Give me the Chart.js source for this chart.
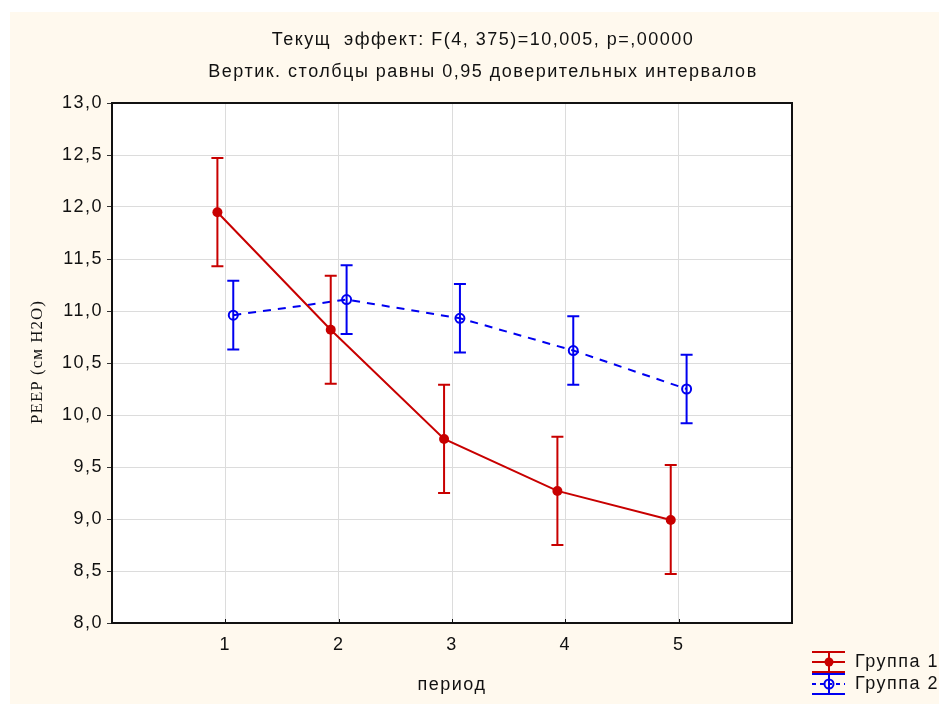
<!DOCTYPE html>
<html>
<head>
<meta charset="utf-8">
<script src="https://cdn.jsdelivr.net/npm/chart.js@4/dist/chart.umd.min.js"></script>
<style>
  html, body { margin: 0; padding: 0; background: #fff; }
  #wrap { width: 939px; height: 704px; position: relative; }
</style>
</head>
<body>
<div id="wrap"><canvas id="c" width="939" height="704"></canvas></div>
<script>
// данные (средние и 95% ДИ)
var periods = [1, 2, 3, 4, 5];
var group1Mean = [11.95, 10.82, 9.77, 9.27, 8.99];
var group1Low  = [11.43, 10.30, 9.25, 8.75, 8.47];
var group1High = [12.47, 11.34, 10.29, 9.79, 9.52];
var group2Mean = [10.96, 11.11, 10.93, 10.62, 10.25];
var group2Low  = [10.63, 10.78, 10.60, 10.29, 9.92];
var group2High = [11.29, 11.44, 11.26, 10.95, 10.58];
var yTicks = [8, 8.5, 9, 9.5, 10, 10.5, 11, 11.5, 12, 12.5, 13];
var titleLines = ['Текущ  эффект: F(4, 375)=10,005, p=,00000', 'Вертик. столбцы равны 0,95 доверительных интервалов'];

var RED = '#c80000', BLUE = '#0000f0';
var FONT = '"Liberation Sans", Arial, sans-serif';
var SPACING = '1.5px';

function pts(mean, lo, hi, shift) {
  return periods.map(function (p, i) {
    return { x: p + shift, y: mean[i], lo: lo[i], hi: hi[i] };
  });
}

// фон, рамка, усы, заголовки и легенда
var decor = {
  id: 'decor',
  beforeDraw: function (ch) {
    var ctx = ch.ctx, a = ch.chartArea;
    ctx.save();
    ctx.fillStyle = '#ffffff';
    ctx.fillRect(0, 0, ch.width, ch.height);
    ctx.fillStyle = '#fff9ee';
    ctx.fillRect(10, 12, ch.width - 10, ch.height - 12);
    ctx.fillStyle = '#ffffff';
    ctx.fillRect(a.left, a.top, a.right - a.left, a.bottom - a.top);
    ctx.restore();
    ctx.letterSpacing = SPACING; // шрифт в оригинале шире
  },
  afterDatasetsDraw: function (ch) {
    var ctx = ch.ctx, xs = ch.scales.x, ys = ch.scales.y;
    ctx.save();
    ch.data.datasets.forEach(function (ds) {
      ctx.strokeStyle = ds.borderColor;
      ctx.lineWidth = 2;
      ctx.setLineDash([]);
      ds.data.forEach(function (d) {
        var x = xs.getPixelForValue(d.x);
        var y1 = ys.getPixelForValue(d.lo), y2 = ys.getPixelForValue(d.hi);
        ctx.beginPath();
        ctx.moveTo(x, y1); ctx.lineTo(x, y2);
        ctx.moveTo(x - 6, y1); ctx.lineTo(x + 6, y1);
        ctx.moveTo(x - 6, y2); ctx.lineTo(x + 6, y2);
        ctx.stroke();
      });
    });
    ctx.restore();
  },
  afterDraw: function (ch) {
    var ctx = ch.ctx, a = ch.chartArea;
    ctx.save();
    ctx.strokeStyle = '#111';
    ctx.lineWidth = 2;
    ctx.strokeRect(a.left, a.top, a.right - a.left, a.bottom - a.top);
    // маленькие штрихи по оси X внутрь
    ctx.lineWidth = 1;
    periods.forEach(function (p) {
      var x = Math.round(ch.scales.x.getPixelForValue(p)) + 0.5;
      ctx.beginPath(); ctx.moveTo(x, a.bottom); ctx.lineTo(x, a.bottom - 4); ctx.stroke();
    });

    ctx.fillStyle = '#111';
    ctx.textAlign = 'center';
    ctx.textBaseline = 'middle';
    ctx.letterSpacing = SPACING;

    // заголовок
    ctx.font = '18px ' + FONT;
    ctx.fillText(titleLines[0], 483, 40);
    ctx.fillText(titleLines[1], 483, 72);

    // заголовки осей
    ctx.fillText('период', (a.left + a.right) / 2, 685);
    ctx.font = '17px "Liberation Serif", "Times New Roman", serif';
    ctx.letterSpacing = '1px';
    ctx.translate(38, 362);
    ctx.rotate(-Math.PI / 2);
    ctx.fillText('PEEP (см H2O)', 0, 0);
    ctx.setTransform(1, 0, 0, 1, 0, 0);
    ctx.letterSpacing = SPACING;

    // легенда
    var items = [
      { label: 'Группа 1', color: RED, y: 662, dash: [], fill: true },
      { label: 'Группа 2', color: BLUE, y: 684, dash: [4, 4], fill: false }
    ];
    items.forEach(function (it) {
      var x0 = 812, x1 = 845, cx = 829;
      ctx.strokeStyle = it.color;
      ctx.lineWidth = 2;
      ctx.setLineDash([]);
      ctx.beginPath();
      ctx.moveTo(x0, it.y - 10); ctx.lineTo(x1, it.y - 10);
      ctx.moveTo(x0, it.y + 10); ctx.lineTo(x1, it.y + 10);
      ctx.moveTo(cx, it.y - 10); ctx.lineTo(cx, it.y + 10);
      ctx.stroke();
      ctx.setLineDash(it.dash);
      ctx.beginPath(); ctx.moveTo(x0, it.y); ctx.lineTo(x1, it.y); ctx.stroke();
      ctx.setLineDash([]);
      ctx.beginPath(); ctx.arc(cx, it.y, 4.5, 0, Math.PI * 2);
      if (it.fill) { ctx.fillStyle = it.color; ctx.fill(); } else { ctx.stroke(); }
      ctx.fillStyle = '#111';
      ctx.font = '18px ' + FONT;
      ctx.textAlign = 'left';
      ctx.fillText(it.label, 855, it.y);
    });
    ctx.restore();
  }
};

new Chart(document.getElementById('c'), {
  type: 'line',
  data: {
    datasets: [
      {
        label: 'Группа 1',
        data: pts(group1Mean, group1Low, group1High, -0.07),
        borderColor: RED, backgroundColor: RED,
        borderWidth: 2, pointRadius: 5, pointBackgroundColor: RED,
        pointBorderWidth: 0, tension: 0
      },
      {
        label: 'Группа 2',
        data: pts(group2Mean, group2Low, group2High, 0.07),
        borderColor: BLUE, backgroundColor: BLUE,
        borderWidth: 2, borderDash: [8, 7], pointRadius: 4.5,
        pointBackgroundColor: 'rgba(255,255,255,0)', pointBorderColor: BLUE,
        pointBorderWidth: 2, tension: 0
      }
    ]
  },
  options: {
    responsive: false,
    animation: false,
    layout: { padding: { top: 103, right: 147, left: 0, bottom: 0 } },
    plugins: {
      legend: { display: false },
      tooltip: { enabled: false },
      title: { display: false }
    },
    scales: {
      x: {
        type: 'linear', min: 0, max: 6,
        afterFit: function (s) { s.height = 81; },
        afterBuildTicks: function (s) { s.ticks = periods.map(function (p) { return { value: p }; }); },
        ticks: { color: '#111', font: { family: FONT, size: 18 }, padding: 11 },
        grid: { color: '#dcdcdc', drawTicks: false },
        border: { display: false }
      },
      y: {
        min: 8, max: 13,
        afterFit: function (s) { s.width = 112; },
        afterBuildTicks: function (s) { s.ticks = yTicks.map(function (v) { return { value: v }; }); },
        ticks: {
          color: '#111', font: { family: FONT, size: 18 }, padding: 4,
          callback: function (v) { return v.toFixed(1).replace('.', ','); }
        },
        grid: { color: '#dcdcdc', tickColor: '#333', tickLength: 5 },
        border: { display: false }
      }
    }
  },
  plugins: [decor]
});
</script>
</body>
</html>
